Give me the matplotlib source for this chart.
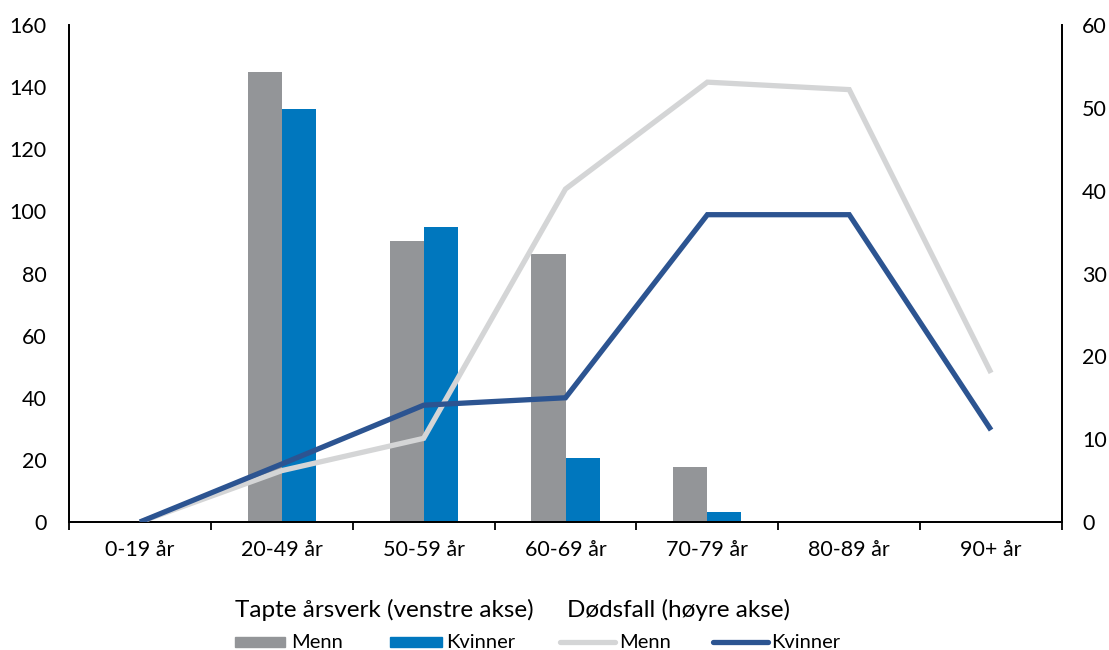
import matplotlib
matplotlib.use("Agg")
import matplotlib.pyplot as plt
import numpy as np
from matplotlib.patches import Rectangle
from matplotlib.lines import Line2D

plt.rcParams['font.family'] = ['Lato', 'DejaVu Sans']

categories = ["0-19 år", "20-49 år", "50-59 år", "60-69 år", "70-79 år", "80-89 år", "90+ år"]
aarsverk_menn = [0, 145, 90.5, 86.3, 17.7, 0, 0]
aarsverk_kvinner = [0, 133, 95, 20.6, 3.2, 0, 0]
dodsfall_menn = [0, 6.2, 10.1, 40.2, 53.1, 52.2, 18.0]
dodsfall_kvinner = [0, 7.0, 14.1, 15.0, 37.1, 37.1, 11.1]
left_ticks = [0, 20, 40, 60, 80, 100, 120, 140, 160]
right_ticks = [0, 10, 20, 30, 40, 50, 60]

c_bar_m = "#939598"
c_bar_k = "#0077BE"
c_line_m = "#D4D5D6"
c_line_k = "#2C5491"

W, H = 1109, 650
fig = plt.figure(figsize=(W/100, H/100), dpi=100)
ax = fig.add_axes([69/W, 1 - 522/H, (1062 - 69)/W, (522 - 25)/H])
x = np.arange(len(categories))
w = 0.24
ax.bar(x - w/2, aarsverk_menn, width=w, color=c_bar_m, zorder=2)
ax.bar(x + w/2, aarsverk_kvinner, width=w, color=c_bar_k, zorder=2)
ax.set_xlim(-0.5, len(categories) - 0.5)
ax.set_ylim(0, 160)
ax.set_yticks(left_ticks)
ax.set_yticklabels([str(t) for t in left_ticks])
ax.tick_params(axis='y', length=0, pad=16, labelsize=15.5)
ax.set_xticks(x)
ax.set_xticklabels(categories)
ax.tick_params(axis='x', which='major', length=0, pad=13, labelsize=15.5)
ax.set_xticks(np.arange(-0.5, len(categories), 1.0), minor=True)
ax.tick_params(axis='x', which='minor', length=6, width=1.3, direction='out')
ax.spines['top'].set_visible(False)
for s in ['left', 'bottom', 'right']:
    ax.spines[s].set_linewidth(1.3)

ax2 = ax.twinx()
ax2.plot(x, dodsfall_menn, color=c_line_m, lw=3.8, solid_capstyle='butt', solid_joinstyle='miter', zorder=3)
ax2.plot(x, dodsfall_kvinner, color=c_line_k, lw=3.8, solid_capstyle='butt', solid_joinstyle='miter', zorder=4)
ax2.set_ylim(0, 60)
ax2.set_yticks(right_ticks)
ax2.set_yticklabels([str(t) for t in right_ticks])
ax2.tick_params(axis='y', length=0, pad=14.5, labelsize=15.5)
ax2.spines['top'].set_visible(False)
for s in ['left', 'bottom', 'right']:
    ax2.spines[s].set_linewidth(1.3)

def fx(px):
    return px / W

def fy(py):
    return 1 - py / H

# Legend titles
fig.text(fx(235), fy(617), "Tapte årsverk (venstre akse)", fontsize=17.5, va='baseline', ha='left')
fig.text(fx(567), fy(617), "Dødsfall (høyre akse)", fontsize=17.5, va='baseline', ha='left')

# Legend entries
ly = 642
fig.add_artist(Rectangle((fx(235), fy(647)), fx(285) - fx(235), fy(637) - fy(647),
                         transform=fig.transFigure, color=c_bar_m))
fig.text(fx(291), fy(ly), "Menn", fontsize=14.5, va='center', ha='left')
fig.add_artist(Rectangle((fx(390), fy(647)), fx(442) - fx(390), fy(637) - fy(647),
                         transform=fig.transFigure, color=c_bar_k))
fig.text(fx(446), fy(ly), "Kvinner", fontsize=14.5, va='center', ha='left')
fig.add_artist(Line2D([fx(560), fx(615)], [fy(ly), fy(ly)], transform=fig.transFigure,
                      color=c_line_m, lw=3.8, solid_capstyle='round'))
fig.text(fx(619), fy(ly), "Menn", fontsize=14.5, va='center', ha='left')
fig.add_artist(Line2D([fx(713), fx(768)], [fy(ly), fy(ly)], transform=fig.transFigure,
                      color=c_line_k, lw=3.8, solid_capstyle='round'))
fig.text(fx(771), fy(ly), "Kvinner", fontsize=14.5, va='center', ha='left')

fig.savefig("out.png", dpi=100)
